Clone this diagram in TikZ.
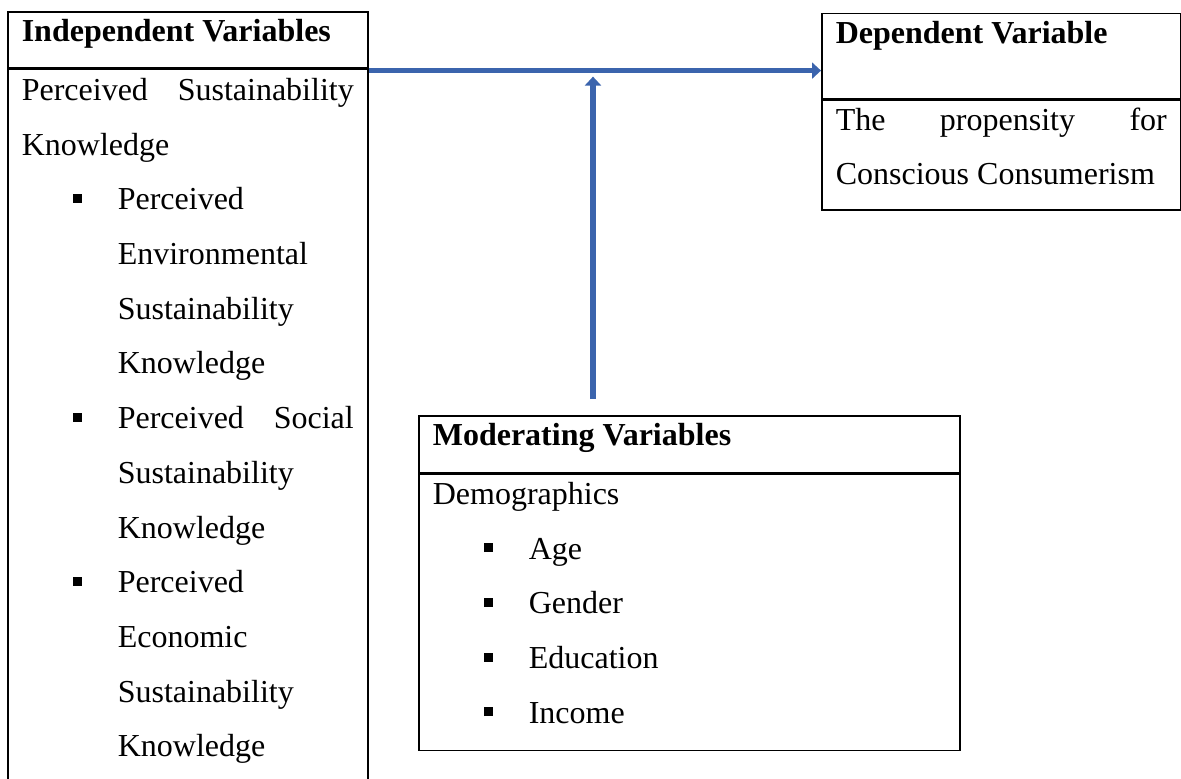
\documentclass[tikz,border=0pt]{standalone}
\usepackage{fontspec}
\setmainfont{Liberation Serif}
\usetikzlibrary{positioning,arrows.meta}

\definecolor{arrowblue}{HTML}{3B64AD}

\tikzstyle{cell} = [rectangle, draw, line width=0.8pt, inner xsep=7pt, inner ysep=0pt,
    text height=15pt, anchor=north west, font=\fontsize{16}{27.35}\selectfont]
\tikzstyle{link} = [draw, line width=2.6pt, color=arrowblue, -{Triangle[width=8pt,length=4.5pt]}]

% square bullet and the indent of wrapped item lines
\newcommand{\bitem}{\hspace*{25.5pt}\rule[3.5pt]{4.5pt}{4.5pt}\hspace*{18pt}}
\newcommand{\bindent}{\hspace*{48pt}}

\begin{document}
\begin{tikzpicture}[x=0.5pt, y=-0.5pt]
	\useasboundingbox (0,0) rectangle (1181,778);
	\clip (0,0) rectangle (1181,778);

	% Independent variables
	\node [cell, text depth=13pt] (IndepHead) at (7,11)
		{\parbox[t]{166pt}{\textbf{Independent Variables}}};
	\node [cell, text height=15.5pt, text depth=351pt, below=0pt of IndepHead] (Indep)
		{\parbox[t]{166pt}{Perceived\hfill Sustainability\\
		Knowledge\\
		\bitem Perceived\\
		\bindent Environmental\\
		\bindent Sustainability\\
		\bindent Knowledge\\
		\bitem Perceived\hfill Social\\
		\bindent Sustainability\\
		\bindent Knowledge\\
		\bitem Perceived\\
		\bindent Economic\\
		\bindent Sustainability\\
		\bindent Knowledge}};

	% Dependent variable
	\node [cell, text depth=27.5pt] (DepHead) at (821,12.7)
		{\parbox[t]{165.5pt}{\textbf{Dependent Variable}}};
	\node [cell, text depth=40pt, below=0pt of DepHead] (Dep)
		{\parbox[t]{165.5pt}{The\hfill propensity\hfill for\\
		Conscious Consumerism}};

	% Moderating variables
	\node [cell, text depth=13.5pt] (ModHead) at (418,415)
		{\parbox[t]{256.5pt}{\textbf{Moderating Variables}}};
	\node [cell, text depth=123pt, below=0pt of ModHead] (Mod)
		{\parbox[t]{256.5pt}{Demographics\\
		\bitem Age\\
		\bitem Gender\\
		\bitem Education\\
		\bitem Income}};

	% Arrows
	\coordinate (hub) at ([yshift=-1pt]IndepHead.south east);
	\path [link] (hub) -- (hub -| DepHead.west);
	\coordinate (ModTop) at ([xshift=87.5pt,yshift=8pt]ModHead.north west);
	\path [link] (ModTop) -- ([yshift=-3pt]ModTop |- hub);
\end{tikzpicture}
\end{document}
